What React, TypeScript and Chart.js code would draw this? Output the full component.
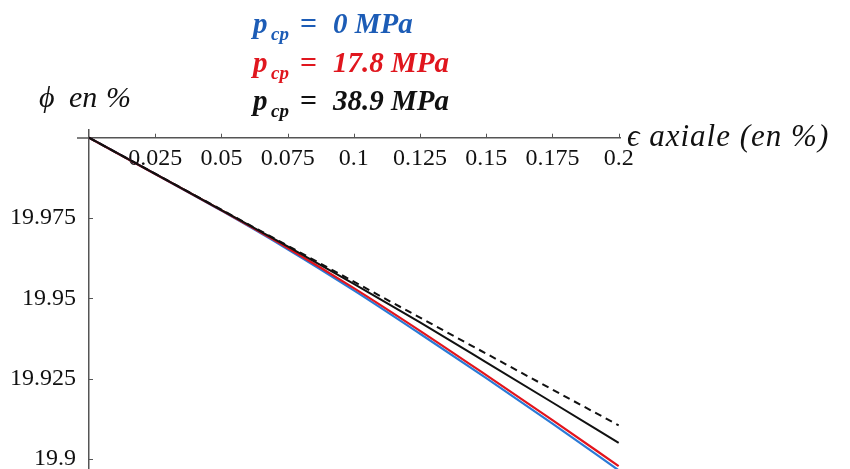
import React, { useEffect, useRef } from "react";
import { Chart, registerables } from "chart.js";

Chart.register(...registerables);

// axial strain (%) sampling positions
const strainX = [0, 0.025, 0.05, 0.075, 0.1, 0.125, 0.15, 0.175, 0.2];
// porosity phi (%) for each confining pressure
const phiP0 = [20, 19.9887, 19.9773, 19.9653, 19.9525, 19.939, 19.9252, 19.911, 19.8965];
const phiP178 = [20, 19.9887, 19.9774, 19.9657, 19.9532, 19.9399, 19.9261, 19.9121, 19.8978];
const phiP389 = [20, 19.98875, 19.9775, 19.9662, 19.9545, 19.9425, 19.9301, 19.9176, 19.905];
const phiLinear = [20, 19.9888, 19.9776, 19.9664, 19.9552, 19.944, 19.9328, 19.9216, 19.9105];

const xTickValues = [0.025, 0.05, 0.075, 0.1, 0.125, 0.15, 0.175, 0.2];
const yTickValues = [19.9, 19.925, 19.95, 19.975];

const pressureValues = ["0", "17.8", "38.9"];
const pressureColors = ["#1c5cb6", "#e0161e", "#111111"];

const SERIF = '"Liberation Serif", "Times New Roman", serif';

const fmt = (v: number) => String(Number(v.toFixed(4)));

const annotPlugin = {
  id: "annot",
  afterDraw(chart: any) {
    const ctx = chart.ctx as CanvasRenderingContext2D;
    const xs = chart.scales.x;
    const ys = chart.scales.y;
    const axisY = ys.getPixelForValue(20);
    const axisX = xs.getPixelForValue(0);
    ctx.save();
    // short extension of the x axis to the left of the y axis
    ctx.strokeStyle = "#555";
    ctx.lineWidth = 1.5;
    ctx.beginPath();
    ctx.moveTo(axisX - 12, Math.round(axisY));
    ctx.lineTo(axisX, Math.round(axisY));
    ctx.stroke();
    // tick marks (up from x axis, right from y axis)
    ctx.lineWidth = 1;
    ctx.beginPath();
    for (const v of xTickValues) {
      const px = Math.round(xs.getPixelForValue(v)) + 0.5;
      ctx.moveTo(px, axisY);
      ctx.lineTo(px, axisY - 4);
    }
    for (const v of yTickValues) {
      const py = Math.round(ys.getPixelForValue(v)) + 0.5;
      ctx.moveTo(axisX, py);
      ctx.lineTo(axisX + 4, py);
    }
    ctx.stroke();

    // pressure labels
    ctx.textBaseline = "alphabetic";
    ctx.textAlign = "left";
    const baselines = [33, 72, 110];
    pressureValues.forEach((val, i) => {
      const b = baselines[i];
      ctx.fillStyle = pressureColors[i];
      ctx.font = `italic bold 29px ${SERIF}`;
      ctx.fillText("p", 253, b);
      ctx.font = `italic bold 19px ${SERIF}`;
      ctx.fillText("cp", 271, b + 7);
      ctx.font = `bold 30px ${SERIF}`;
      ctx.fillText("=", 300, b);
      ctx.font = `italic bold 29px ${SERIF}`;
      ctx.fillText(`${val} MPa`, 333, b);
    });

    // y axis title
    ctx.fillStyle = "#111";
    ctx.font = `italic 30px ${SERIF}`;
    ctx.fillText("ϕ", 39, 107);
    ctx.fillText("en", 69, 107);
    ctx.fillText("%", 106, 107);

    // x axis title
    const title = "ϵ axiale (en %)";
    ctx.font = `italic 31px ${SERIF}`;
    const w = ctx.measureText(title).width;
    const extra = Math.min(1, Math.max(0, (218 - w) / title.length));
    (ctx as any).letterSpacing = `${extra.toFixed(2)}px`;
    ctx.fillText(title, 627, 146);
    (ctx as any).letterSpacing = "0px";
    ctx.restore();
  },
};

export default function App() {
  const ref = useRef<HTMLCanvasElement | null>(null);
  useEffect(() => {
    if (!ref.current) return;
    const mk = (arr: number[]) => strainX.map((x, i) => ({ x, y: arr[i] }));
    const chart = new Chart(ref.current, {
      type: "line",
      data: {
        datasets: [
          {
            label: "p_cp = 38.9 MPa",
            data: mk(phiP389),
            borderColor: "#111111",
            borderWidth: 2,
            pointRadius: 0,
            cubicInterpolationMode: "monotone",
            order: 0,
          },
          {
            label: "linear",
            data: mk(phiLinear),
            borderColor: "#111111",
            borderWidth: 2,
            borderDash: [7, 5],
            pointRadius: 0,
            order: 1,
          },
          {
            label: "p_cp = 17.8 MPa",
            data: mk(phiP178),
            borderColor: "#e3141c",
            borderWidth: 2.2,
            pointRadius: 0,
            cubicInterpolationMode: "monotone",
            order: 2,
          },
          {
            label: "p_cp = 0 MPa",
            data: mk(phiP0),
            borderColor: "#2a7ad6",
            borderWidth: 2.2,
            pointRadius: 0,
            cubicInterpolationMode: "monotone",
            order: 3,
          },
        ],
      },
      options: {
        responsive: false,
        animation: false,
        devicePixelRatio: 1,
        layout: { padding: { left: 0, right: 230, top: 130, bottom: 0 } },
        plugins: { legend: { display: false }, tooltip: { enabled: false } },
        scales: {
          x: {
            type: "linear",
            position: { y: 20 } as any,
            min: 0,
            max: 0.2005,
            grid: { display: false, drawTicks: false },
            border: { display: true, color: "#555", width: 1.5 },
            afterBuildTicks: (s: any) => {
              s.ticks = xTickValues.map((v) => ({ value: v }));
            },
            afterFit: (s: any) => {
              s.paddingLeft = 0;
              s.paddingRight = 0;
            },
            ticks: {
              padding: 7,
              color: "#111",
              maxRotation: 0,
              autoSkip: false,
              font: { family: SERIF, size: 24 },
              callback: (v: any) => fmt(Number(v)),
            },
          },
          y: {
            type: "linear",
            position: "left",
            min: 19.8969,
            max: 20.0024,
            grid: { display: false, drawTicks: false },
            border: { display: true, color: "#555", width: 1.5 },
            afterBuildTicks: (s: any) => {
              s.ticks = yTickValues.map((v) => ({ value: v }));
            },
            afterFit: (s: any) => {
              s.width = 89;
              s.paddingTop = 0;
              s.paddingBottom = 0;
            },
            ticks: {
              padding: 13,
              color: "#111",
              autoSkip: false,
              font: { family: SERIF, size: 24 },
              callback: (v: any) => fmt(Number(v)),
            },
          },
        },
      },
      plugins: [annotPlugin],
    });
    return () => chart.destroy();
  }, []);
  return (
    <div style={{ position: "absolute", left: 0, top: 0, width: 850, height: 469, background: "#fff" }}>
      <canvas ref={ref} width={850} height={469} />
    </div>
  );
}
